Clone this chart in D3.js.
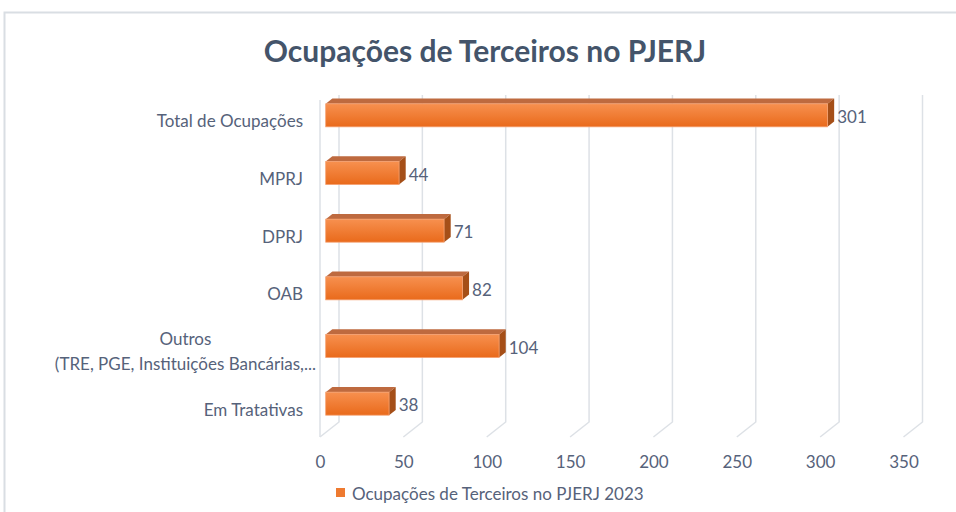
<!DOCTYPE html>
<html>
<head>
<meta charset="utf-8">
<script src="https://cdn.jsdelivr.net/npm/d3@7"></script>
<style>
  body { margin:0; background:#fff; }
  svg { font-family: Lato, "Noto Sans", sans-serif; }
</style>
</head>
<body>
<div id="plot"></div>
<script>
// data
var categories = ["Total de Ocupações", "MPRJ", "DPRJ", "OAB", "Outros|(TRE, PGE, Instituições Bancárias,...", "Em Tratativas"];
var values = [301, 44, 71, 82, 104, 38];
var ticks = [0, 50, 100, 150, 200, 250, 300, 350];
var seriesName = "Ocupações de Terceiros no PJERJ 2023";
var title = "Ocupações de Terceiros no PJERJ";

var W = 956, H = 512;
var textCol = "#56627a", gridCol = "#dde1e6";
var fs = '17px';

var svg = d3.select('#plot').append('svg')
    .attr('width', W).attr('height', H);

// gradient for bar front
var defs = svg.append('defs');
var grad = defs.append('linearGradient').attr('id','barFront')
    .attr('x1',0).attr('y1',0).attr('x2',0).attr('y2',1);
grad.append('stop').attr('offset','0%').attr('stop-color','#f7904f');
grad.append('stop').attr('offset','100%').attr('stop-color','#e96a1b');

// chart border
svg.append('path')
    .attr('d','M4.5,' + (H+2) + 'V12.5H' + (W+2))
    .attr('fill','none').attr('stroke','#d9dee3').attr('stroke-width',2);

// title
svg.append('text')
    .attr('x', 485).attr('y', 50)
    .attr('text-anchor','middle').attr('dominant-baseline','central')
    .style('font-size','30px').style('font-weight','bold')
    .style('fill','#44546a')
    .text(title);

// scales: x on the front edge of the floor, depth gives the offset to the back wall
var x = d3.scaleLinear().domain([0, 350]).range([320, 903.5]);
var depth = {dx: 19, dy: -15};
var floorY = 437;
var y = d3.scalePoint().domain(categories).range([91, floorY]).padding(0.5);
var barH = 23;
var front = 0.3, back = 0.65;

var g = svg.append('g');

// back wall gridlines + floor diagonals
ticks.forEach(function(t) {
    var bx = x(t) + depth.dx, by = floorY + depth.dy;
    g.append('path')
        .attr('d', 'M' + bx + ',95V' + by + 'L' + x(t) + ',' + floorY)
        .attr('fill','none').attr('stroke', gridCol).attr('stroke-width',1.5);
});
// side wall front edge
g.append('line')
    .attr('x1', x(0)).attr('x2', x(0))
    .attr('y1', 100).attr('y2', floorY)
    .attr('stroke', gridCol).attr('stroke-width',1.5);

// bars
categories.forEach(function(c, i) {
    var v = values[i];
    var fx0 = x(0) + depth.dx * front, fx1 = x(v) + depth.dx * front;
    var fyc = y(c) + depth.dy * front;
    var fy0 = fyc - barH / 2, fy1 = fyc + barH / 2;
    var ox = depth.dx * (back - front), oy = depth.dy * (back - front);

    // top face
    g.append('path')
        .attr('d', 'M' + fx0 + ',' + fy0 + 'L' + (fx0 + ox) + ',' + (fy0 + oy) +
              'L' + (fx1 + ox) + ',' + (fy0 + oy) + 'L' + fx1 + ',' + fy0 + 'Z')
        .attr('fill', '#be6a3f');
    // side face
    g.append('path')
        .attr('d', 'M' + fx1 + ',' + fy0 + 'L' + (fx1 + ox) + ',' + (fy0 + oy) +
              'L' + (fx1 + ox) + ',' + (fy1 + oy) + 'L' + fx1 + ',' + fy1 + 'Z')
        .attr('fill', '#a54f18');
    // front face
    g.append('rect')
        .attr('x', fx0).attr('y', fy0)
        .attr('width', fx1 - fx0).attr('height', barH)
        .attr('fill', 'url(#barFront)')
        .attr('stroke', '#f5a070').attr('stroke-width', 0.8);

    // value label
    g.append('text')
        .attr('x', fx1 + ox + 3).attr('y', fyc + 1)
        .attr('dominant-baseline','central')
        .style('font-size', fs).style('fill', textCol)
        .text(v);
});

// category labels
categories.forEach(function(c) {
    var parts = c.split('|');
    if (parts.length == 1) {
        g.append('text')
            .attr('x', 303).attr('y', y(c) + 1)
            .attr('text-anchor','end').attr('dominant-baseline','central')
            .style('font-size', fs).style('fill', textCol)
            .text(c);
    } else {
        var second = g.append('text')
            .attr('x', 316).attr('y', y(c) + 13)
            .attr('text-anchor','end').attr('dominant-baseline','central')
            .style('font-size', fs).style('fill', textCol)
            .text(parts[1]);
        var w = second.node().getComputedTextLength();
        g.append('text')
            .attr('x', 316 - w / 2).attr('y', y(c) - 12)
            .attr('text-anchor','middle').attr('dominant-baseline','central')
            .style('font-size', fs).style('fill', textCol)
            .text(parts[0]);
    }
});

// value axis
var axis = d3.axisBottom(x).tickValues(ticks).tickSize(0).tickPadding(0);
var ax = svg.append('g').attr('transform', 'translate(0,461)').call(axis);
ax.select('.domain').remove();
ax.selectAll('text')
    .attr('dy', null).attr('y', 0)
    .attr('dominant-baseline','central')
    .style('font-family','Lato, "Noto Sans", sans-serif')
    .style('font-size', fs).style('fill', textCol);

// legend
var leg = svg.append('g').attr('transform','translate(336,488)');
leg.append('rect').attr('width',9).attr('height',9).attr('fill','#ee7a30');
leg.append('text')
    .attr('x', 16).attr('y', 5)
    .attr('dominant-baseline','central')
    .style('font-size', fs).style('fill', textCol)
    .text(seriesName);
</script>
</body>
</html>
